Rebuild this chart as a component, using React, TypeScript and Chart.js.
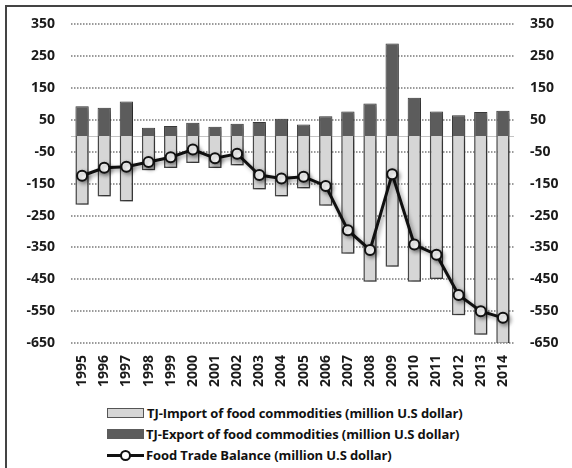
import React, { useEffect, useRef } from "react";
import { Chart, registerables } from "chart.js";

Chart.register(...registerables);

const years = ["1995","1996","1997","1998","1999","2000","2001","2002","2003","2004","2005","2006","2007","2008","2009","2010","2011","2012","2013","2014"];
const importValues = [-216,-190,-206,-108,-101,-85,-101,-93,-168,-190,-165,-219,-370,-458,-411,-458,-449,-563,-624,-653];
const exportValues = [93,88,108,26,31,41,29,38,44,54,36,62,77,102,290,120,77,65,75,79];
const balanceValues = [-125,-100,-97,-82,-67,-43,-70,-56,-123,-134,-128,-157,-296,-358,-120,-341,-373,-499,-550,-571];
const tickValues = [350,250,150,50,-50,-150,-250,-350,-450,-550,-650];

const labelImport = "TJ-Import of food commodities (million U.S dollar)";
const labelExport = "TJ-Export of food commodities (million U.S dollar)";
const labelBalance = "Food Trade Balance (million U.S dollar)";

const FONT = "'Open Sans', Lato, sans-serif";

export default function App() {
  const ref = useRef<HTMLCanvasElement | null>(null);

  useEffect(() => {
    document.body.style.margin = "0";
    const canvas = ref.current;
    if (!canvas) return;

    const gridPlugin = {
      id: "dottedGrid",
      beforeDatasetDraw(chart: any) {
        const ctx = chart.ctx;
        ctx.save();
        ctx.shadowColor = "rgba(0,0,0,0.4)";
        ctx.shadowBlur = 4;
        ctx.shadowOffsetX = 2;
        ctx.shadowOffsetY = 2;
      },
      afterDatasetDraw(chart: any) {
        chart.ctx.restore();
      },
      afterDraw(chart: any) {
        // paint the grid behind everything already drawn
        const ys = chart.scales.y;
        const area = chart.chartArea;
        const ctx = chart.ctx;
        ctx.save();
        ctx.globalCompositeOperation = "destination-over";
        ctx.fillStyle = "#9a9a9a";
        for (const v of tickValues) {
          const y = Math.round(ys.getPixelForValue(v));
          for (let x = Math.round(area.left); x < area.right; x += 3) {
            ctx.fillRect(x, y - 1, 1.5, 2);
          }
        }
        ctx.fillStyle = "#c4c4c4";
        const y0 = Math.round(ys.getPixelForValue(0));
        ctx.fillRect(area.left, y0, area.right - area.left, 1);
        ctx.restore();
      },
    };

    const chart = new Chart(canvas, {
      type: "bar",
      data: {
        labels: years,
        datasets: [
          {
            type: "line",
            label: labelBalance,
            data: balanceValues,
            borderColor: "#111",
            borderWidth: 3,
            pointRadius: 5,
            pointBorderWidth: 2,
            pointBackgroundColor: "#fff",
            pointBorderColor: "#111",
            yAxisID: "y",
            order: 0,
          } as any,
          {
            label: labelImport,
            data: importValues,
            backgroundColor: "#d6d6d6",
            borderColor: "#4a4a4a",
            borderWidth: 1.5,
            barPercentage: 0.6,
            categoryPercentage: 1,
            yAxisID: "y",
            order: 2,
          },
          {
            label: labelExport,
            data: exportValues,
            backgroundColor: "#5c5c5c",
            borderColor: "#3c3c3c",
            borderWidth: 1,
            barPercentage: 0.6,
            categoryPercentage: 1,
            yAxisID: "y",
            order: 1,
          },
        ],
      },
      options: {
        animation: false,
        responsive: false,
        maintainAspectRatio: false,
        layout: { padding: { top: 18, bottom: 0, left: 0, right: 0 } },
        plugins: {
          legend: { display: false },
          tooltip: { enabled: false },
        },
        scales: {
          x: {
            stacked: true,
            grid: { display: false, drawTicks: false },
            border: { display: false },
            ticks: {
              font: { family: FONT, size: 14, weight: "bold" },
              color: "#1a1a1a",
              minRotation: 90,
              maxRotation: 90,
              padding: 12,
              autoSkip: false,
            },
            afterFit(scale: any) {
              scale.height = 57;
            },
          },
          y: {
            position: "left",
            min: -650,
            max: 350,
            afterBuildTicks(scale: any) {
              scale.ticks = tickValues.map((v) => ({ value: v }));
            },
            grid: { display: false, drawTicks: false },
            border: { display: false },
            ticks: {
              font: { family: FONT, size: 14, weight: "bold" },
              color: "#1a1a1a",
              padding: 16,
            },
            afterFit(scale: any) {
              scale.width = 71;
            },
          },
          y2: {
            position: "right",
            min: -650,
            max: 350,
            afterBuildTicks(scale: any) {
              scale.ticks = tickValues.map((v) => ({ value: v }));
            },
            grid: { display: false, drawTicks: false },
            border: { display: false },
            ticks: {
              font: { family: FONT, size: 14, weight: "bold" },
              color: "#1a1a1a",
              padding: 16,
            },
            afterFit(scale: any) {
              scale.width = 58;
            },
          },
        },
      } as any,
      plugins: [gridPlugin],
    });

    return () => chart.destroy();
  }, []);

  const legendRow: React.CSSProperties = {
    display: "flex",
    alignItems: "center",
    height: 21,
    fontFamily: FONT,
    fontWeight: 700,
    fontSize: 13,
    letterSpacing: -0.1,
    color: "#111",
    whiteSpace: "nowrap",
  };

  return (
    <div
      style={{
        position: "absolute",
        left: 0,
        top: 0,
        width: 572,
        height: 468,
        background: "#fff",
        overflow: "hidden",
      }}
    >
      <div style={{ position: "absolute", left: 5, top: 5, width: 567, height: 2, background: "#444" }} />
      <div style={{ position: "absolute", left: 5, top: 5, width: 2, height: 463, background: "#444" }} />
      <canvas ref={ref} width={572} height={400} style={{ position: "absolute", left: 0, top: 0, width: 572, height: 400 }} />
      <div style={{ position: "absolute", left: 107, top: 402 }}>
        <div style={legendRow}>
          <span style={{ display: "inline-block", width: 35, height: 8, background: "#d6d6d6", border: "1px solid #555", marginRight: 3 }} />
          {labelImport}
        </div>
        <div style={legendRow}>
          <span style={{ display: "inline-block", width: 37, height: 10, background: "#5c5c5c", marginRight: 2 }} />
          {labelExport}
        </div>
        <div style={legendRow}>
          <span style={{ position: "relative", display: "inline-block", width: 37, height: 12, marginRight: 2 }}>
            <span style={{ position: "absolute", left: 0, top: 5, width: 37, height: 3, background: "#111" }} />
            <span style={{ position: "absolute", left: 13, top: 1, width: 7, height: 7, borderRadius: "50%", background: "#fff", border: "2px solid #111" }} />
          </span>
          {labelBalance}
        </div>
      </div>
    </div>
  );
}
